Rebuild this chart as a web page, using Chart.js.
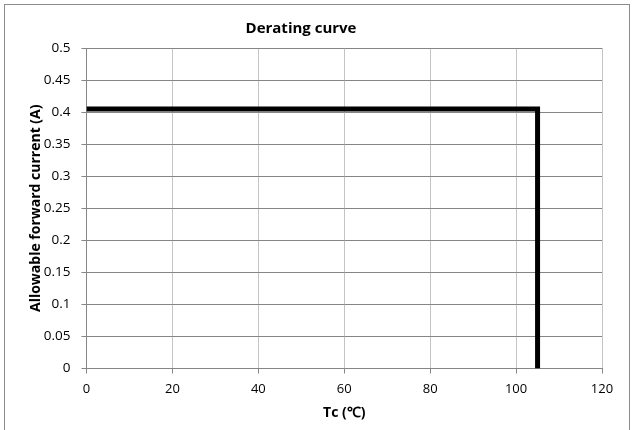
<!DOCTYPE html>
<html>
<head>
<meta charset="utf-8">
<script src="https://cdn.jsdelivr.net/npm/chart.js@4"></script>
<style>
  html, body { margin: 0; padding: 0; background: #fff; }
  #wrap { position: relative; width: 635px; height: 430px; }
  #frame { position: absolute; left: 4px; top: 4px; width: 626px; height: 430px; border: 1px solid #8c8c8c; border-bottom: none; box-sizing: border-box; }
  canvas { position: absolute; left: 0; top: 0; }
</style>
</head>
<body>
<div id="wrap">
  <div id="frame"></div>
  <canvas id="chart" width="635" height="430"></canvas>
</div>
<script>
// Tc (°C) and allowable forward current (A)
const tc = [0, 105, 105];
const current = [0.405, 0.405, 0];

const xTicks = [0, 20, 40, 60, 80, 100, 120];
const yTicks = [0, 0.05, 0.1, 0.15, 0.2, 0.25, 0.3, 0.35, 0.4, 0.45, 0.5];

const fontFamily = '"Open Sans", Lato, sans-serif';

const points = tc.map((x, i) => ({ x: x, y: current[i] }));

new Chart(document.getElementById('chart').getContext('2d'), {
    type: 'scatter',
    data: {
        datasets: [{
            data: points,
            showLine: true,
            borderColor: '#000',
            borderWidth: 5,
            pointRadius: 0,
            borderJoinStyle: 'miter',
            fill: false
        }]
    },
    options: {
        responsive: false,
        animation: false,
        layout: { padding: { top: 4, right: 33, bottom: 0, left: 0 } },
        plugins: {
            legend: { display: false },
            tooltip: { enabled: false },
            title: {
                display: true,
                text: 'Derating curve',
                color: '#000',
                font: { family: fontFamily, size: 15, weight: 'bold' },
                padding: { top: 16, bottom: 10 }
            }
        },
        scales: {
            x: {
                type: 'linear',
                min: 0,
                max: 120,
                afterBuildTicks: s => { s.ticks = xTicks.map(v => ({ value: v })); },
                afterFit: s => { s.height = 61.5; },
                ticks: {
                    color: '#000',
                    font: { family: fontFamily, size: 13 },
                    padding: 8,
                    callback: v => String(v)
                },
                grid: { color: '#c4c4c4', lineWidth: 1, tickLength: 5, tickColor: '#868686' },
                border: { color: '#868686', width: 1 },
                title: {
                    display: true,
                    text: 'Tc (℃)',
                    color: '#000',
                    font: { family: fontFamily, size: 14, weight: 'bold' },
                    padding: { top: 0, bottom: 9 }
                }
            },
            y: {
                type: 'linear',
                min: 0,
                max: 0.5,
                afterBuildTicks: s => { s.ticks = yTicks.map(v => ({ value: v })); },
                afterFit: s => { s.width = 86.5; },
                ticks: {
                    color: '#000',
                    font: { family: fontFamily, size: 13.5 },
                    padding: 11,
                    callback: v => String(v)
                },
                grid: { color: '#868686', lineWidth: 1, tickLength: 5, tickColor: '#868686' },
                border: { color: '#868686', width: 1 },
                title: {
                    display: true,
                    text: 'Allowable forward current (A)',
                    color: '#000',
                    font: { family: fontFamily, size: 14, weight: 'bold' },
                    padding: { top: 28, bottom: 0 }
                }
            }
        }
    }
});
</script>
</body>
</html>
